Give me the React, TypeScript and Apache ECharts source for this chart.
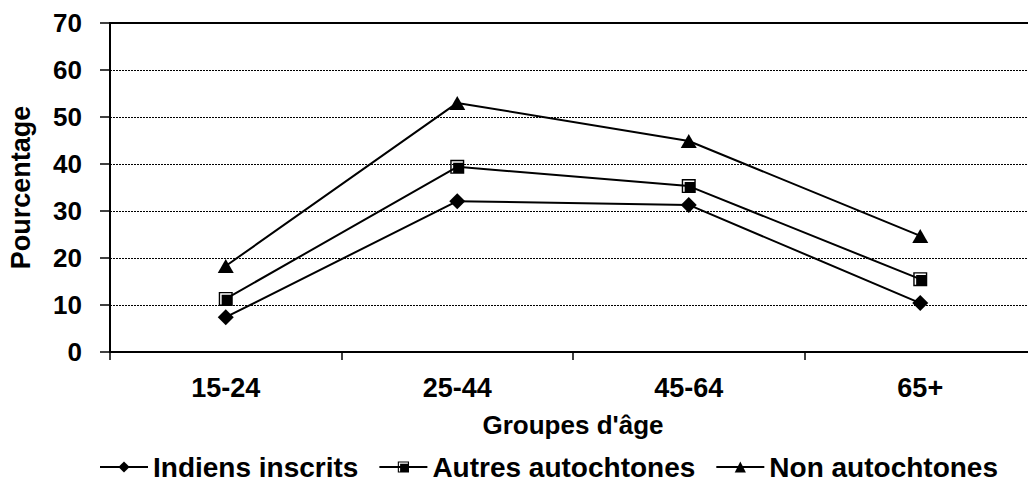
import React, { useEffect, useRef } from "react";
import * as echarts from "echarts";

const categories = ["15-24", "25-44", "45-64", "65+"];
const indiensInscrits = [7.4, 32.1, 31.3, 10.4];
const autresAutochtones = [11.3, 39.4, 35.3, 15.5];
const nonAutochtones = [18.3, 53.0, 44.9, 24.7];
const yTicks = [0, 10, 20, 30, 40, 50, 60, 70];

const squareSymbol =
  "path://M0 0H14V14H0Z M1.4 1.4V12.6H12.6V1.4Z M2.9 2.9H12.6V12.6H2.9Z";

const FONT = "Arial, 'Liberation Sans', sans-serif";

export default function App() {
  const ref = useRef<HTMLDivElement>(null);
  useEffect(() => {
    if (!ref.current) return;
    const chart = echarts.init(ref.current, null, { renderer: "svg" });
    const lineStyle = { color: "#000", width: 2 };
    chart.setOption({
      animation: false,
      backgroundColor: "#fff",
      grid: {
        left: 110,
        top: 23,
        bottom: 131,
        right: -8,
        containLabel: false,
        outerBoundsMode: "none",
      },
      legend: {
        top: 452,
        left: 99,
        padding: 0,
        itemWidth: 48,
        itemHeight: 14,
        itemGap: 20,
        textStyle: { fontFamily: FONT, fontWeight: "bold", fontSize: 28, lineHeight: 30, color: "#000" },
        data: ["Indiens inscrits", "Autres autochtones", "Non autochtones"],
      },
      xAxis: [
        {
          type: "category",
          data: categories,
          boundaryGap: true,
          name: "Groupes d'âge",
          nameLocation: "middle",
          nameGap: 60,
          nameTextStyle: { fontFamily: FONT, fontWeight: "bold", fontSize: 26, color: "#000" },
          axisLine: { lineStyle: { color: "#000", width: 2 } },
          axisTick: { show: true, length: 8, lineStyle: { color: "#000", width: 1.5 } },
          axisLabel: { fontFamily: FONT, fontWeight: "bold", fontSize: 27, color: "#000", margin: 22 },
          splitLine: { show: false },
        },
        {
          type: "category",
          data: categories,
          position: "top",
          axisLine: { show: true, lineStyle: { color: "#000", width: 2 } },
          axisTick: { show: false },
          axisLabel: { show: false },
          splitLine: { show: false },
        },
      ],
      yAxis: {
        type: "value",
        min: yTicks[0],
        max: yTicks[yTicks.length - 1],
        interval: 10,
        name: "Pourcentage",
        nameLocation: "middle",
        nameGap: 76,
        nameTextStyle: { fontFamily: FONT, fontWeight: "bold", fontSize: 27, color: "#000" },
        axisLine: { show: true, lineStyle: { color: "#000", width: 2 } },
        axisTick: { show: true, length: 10, lineStyle: { color: "#000", width: 1.5 } },
        axisLabel: { fontFamily: FONT, fontWeight: "bold", fontSize: 26, color: "#000", margin: 28 },
        splitLine: { show: true, lineStyle: { color: "#000", width: 1, type: [2, 1] } },
      },
      series: [
        {
          name: "Indiens inscrits",
          type: "line",
          data: indiensInscrits,
          symbol: "diamond",
          symbolSize: 16,
          lineStyle,
          itemStyle: { color: "#000" },
        },
        {
          name: "Autres autochtones",
          type: "line",
          data: autresAutochtones,
          symbol: squareSymbol,
          symbolSize: 14,
          lineStyle,
          itemStyle: { color: "#000" },
        },
        {
          name: "Non autochtones",
          type: "line",
          data: nonAutochtones,
          symbol: "triangle",
          symbolSize: [16, 14],
          lineStyle,
          itemStyle: { color: "#000" },
        },
      ],
    });
    return () => chart.dispose();
  }, []);
  return (
    <div
      ref={ref}
      style={{ position: "fixed", left: 0, top: 0, width: 1028, height: 483, background: "#fff" }}
    />
  );
}
